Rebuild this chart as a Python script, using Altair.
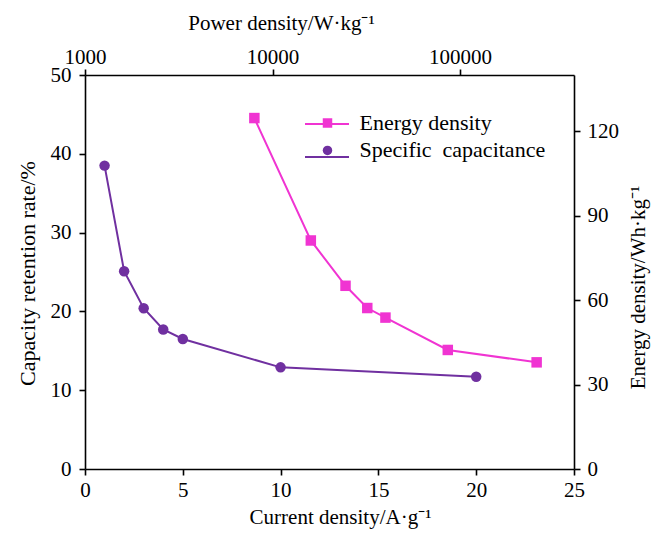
import altair as alt
import pandas as pd

# Specific capacitance (bottom x / left y)
current = [1, 2, 3, 4, 5, 10, 20]
retention = [38.5, 25.1, 20.4, 17.7, 16.5, 12.9, 11.7]

# Energy density (top x log / right y)
power = [8000, 16000, 24500, 32000, 40000, 86000, 256000]
energy = [124.7, 81.2, 65.1, 57.2, 53.8, 42.3, 37.9]

S_ENERGY = "Energy density"
S_CAP = "Specific\u00a0 capacitance"
series_names = [S_ENERGY, S_CAP]
series_keys = ["E", "S"]
series_colors = ["#F034D2", "#7030A0"]
series_shapes = ["square", "circle"]

df_c = pd.DataFrame({"current": current, "retention": retention, "series": S_CAP, "key": "S"})
df_e = pd.DataFrame({"power": power, "energy": energy, "series": S_ENERGY, "key": "E"})

FONT = "Liberation Serif"
FS = 21
LX = 219

# legend for lines (line symbols only)
legend_lines = alt.Legend(
    title=None, orient="none", legendX=LX, legendY=26,
    symbolType="stroke", symbolSize=1936, symbolStrokeWidth=2,
    labelFont=FONT, labelFontSize=20, labelOpacity=0, labelOffset=8,
    labelExpr="' '",
    rowPadding=-5.6, labelLimit=400,
)
# legend for markers (visible labels)
legend_pts = alt.Legend(
    title=None, orient="none", legendX=LX + 12.5, legendY=37,
    symbolSize=90, symbolOpacity=1,
    labelFont=FONT, labelFontSize=22, labelColor="black", labelOffset=21,
    rowPadding=5.4, labelLimit=400,
)

stroke_enc = alt.Stroke("key:N", scale=alt.Scale(domain=series_keys, range=series_colors), legend=legend_lines)
color_enc = alt.Color("series:N", scale=alt.Scale(domain=series_names, range=series_colors), legend=legend_pts)
shape_enc = alt.Shape("series:N", scale=alt.Scale(domain=series_names, range=series_shapes), legend=legend_pts)

x_bottom = alt.X(
    "current:Q",
    scale=alt.Scale(domain=[0, 25], nice=False, zero=False),
    axis=alt.Axis(orient="bottom", values=[0, 5, 10, 15, 20, 25],
                  title="Current density/A·g⁻¹", titlePadding=6, titleX=255),
)
y_left = alt.Y(
    "retention:Q",
    scale=alt.Scale(domain=[0, 50], nice=False),
    axis=alt.Axis(orient="left", values=[0, 10, 20, 30, 40, 50], labelPadding=8,
                  title="Capacity retention rate/%", titleFontSize=22, titleAngle=270,
                  titleBaseline="middle", titleX=-58, titleY=198),
)
x_top = alt.X(
    "power:Q",
    scale=alt.Scale(type="log", domain=[1000, 405000], nice=False),
    axis=alt.Axis(orient="top", values=[1000, 10000, 100000], format="d", labelPadding=2,
                  title="Power density/W·kg⁻¹", titlePadding=13, titleX=196),
)
y_right = alt.Y(
    "energy:Q",
    scale=alt.Scale(domain=[0, 140], nice=False),
    axis=alt.Axis(orient="right", values=[0, 30, 60, 90, 120], labelPadding=7,
                  title="Energy density/Wh·kg⁻¹", titleAngle=270, titleBaseline="middle",
                  titleX=64, titleY=212),
)

line_c = alt.Chart(df_c).mark_line(strokeWidth=2).encode(x=x_bottom, y=y_left, stroke=stroke_enc)
pts_c = alt.Chart(df_c).mark_point(filled=True, size=110, opacity=1).encode(
    x=x_bottom, y=y_left, color=color_enc, shape=shape_enc
)
line_e = alt.Chart(df_e).mark_line(strokeWidth=2).encode(x=x_top, y=y_right, stroke=stroke_enc)
pts_e = alt.Chart(df_e).mark_point(filled=True, size=110, opacity=1).encode(
    x=x_top, y=y_right, color=color_enc, shape=shape_enc
)

chart = (
    alt.layer(alt.layer(line_c, pts_c), alt.layer(line_e, pts_e))
    .resolve_scale(x="independent", y="independent", color="shared", stroke="shared", shape="shared")
    .properties(
        width=489,
        height=394,
        autosize=alt.AutoSizeParams(type="none"),
        padding={"left": 85, "top": 75, "right": 87, "bottom": 65},
        background="white",
    )
    .configure_view(stroke=None)
    .configure_legend(padding=0)
    .configure_axis(
        grid=False,
        domainColor="black",
        domainWidth=1.6,
        tickColor="black",
        tickWidth=1.6,
        tickSize=6,
        labelFont=FONT,
        labelFontSize=FS,
        labelColor="black",
        labelPadding=4,
        labelFlush=False,
        titleFont=FONT,
        titleFontSize=FS,
        titleFontWeight="normal",
        titleColor="black",
    )
)

chart.save("out.html", embed_options={"renderer": "svg", "actions": False})
